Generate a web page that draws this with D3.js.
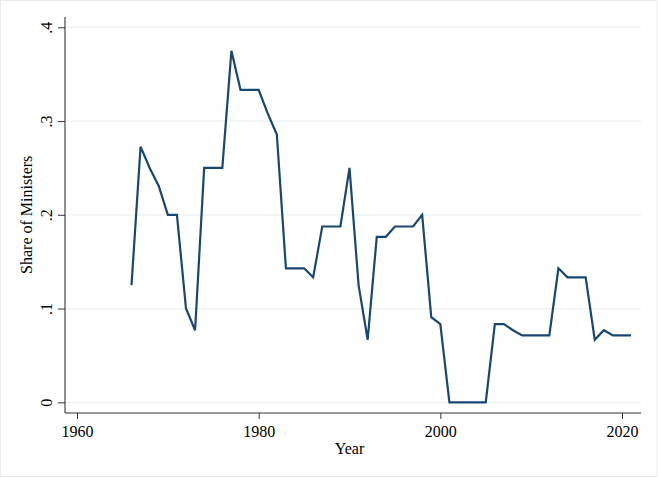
<!DOCTYPE html>
<html>
<head>
<meta charset="utf-8">
<script src="https://cdn.jsdelivr.net/npm/d3@7"></script>
<style>
  html, body { margin: 0; padding: 0; background: #fff; }
  svg { display: block; }
  text { font-family: "Liberation Serif", "Times New Roman", serif; fill: #000; }
</style>
</head>
<body>
<svg id="chart" width="658" height="478"></svg>
<script>
const years = [1966,1967,1968,1969,1970,1971,1972,1973,1974,1975,1976,1977,1978,1979,1980,
  1981,1982,1983,1984,1985,1986,1987,1988,1989,1990,1991,1992,1993,1994,1995,1996,1997,1998,
  1999,2000,2001,2002,2003,2004,2005,2006,2007,2008,2009,2010,2011,2012,2013,2014,2015,2016,
  2017,2018,2019,2020,2021];
const shares = [0.125,0.2727,0.25,0.2308,0.2,0.2,0.1,0.0769,0.25,0.25,0.25,0.375,0.3333,0.3333,0.3333,
  0.308,0.2857,0.1429,0.1429,0.1429,0.1333,0.1875,0.1875,0.1875,0.25,0.125,0.0667,0.1765,0.1765,0.1875,0.1875,0.1875,0.2,
  0.0909,0.0833,0,0,0,0,0,0.0833,0.0833,0.0769,0.0714,0.0714,0.0714,0.0714,0.1429,0.1333,0.1333,0.1333,
  0.0667,0.0769,0.0714,0.0714,0.0714];
const xTicks = [1960,1980,2000,2020];
const yTicks = [0,0.1,0.2,0.3,0.4];
const yTickLabels = ["0",".1",".2",".3",".4"];

const svg = d3.select("#chart");
const W = 658, H = 478;
const plot = {left: 65, right: 641, top: 17, bottom: 413};

svg.append("rect").attr("x",0.5).attr("y",0.5).attr("width",W-1.5).attr("height",H-2)
  .attr("fill","#fff").attr("stroke","#ececec");

const x = d3.scaleLinear().domain([1960,2020]).range([77,622]);
const y = d3.scaleLinear().domain([0,0.4]).range([402.3,27.3]);

// grid
svg.append("g").selectAll("line").data(yTicks).join("line")
  .attr("x1",plot.left).attr("x2",plot.right)
  .attr("y1",d=>y(d)).attr("y2",d=>y(d))
  .attr("stroke","#eaf2f3").attr("stroke-width",1.2);

// line
const data = years.map((yr,i)=>({yr, v: shares[i]}));
svg.append("path").datum(data)
  .attr("fill","none").attr("stroke","#1a476f").attr("stroke-width",2.2)
  .attr("stroke-linejoin","miter")
  .attr("d", d3.line().x(d=>x(d.yr)).y(d=>y(d.v)));

// x axis
const xAxis = svg.append("g").attr("transform",`translate(0,${plot.bottom})`)
  .call(d3.axisBottom(x).tickValues(xTicks).tickFormat(d3.format("d")).tickSize(6).tickSizeOuter(0).tickPadding(7));
xAxis.select(".domain").remove();
xAxis.append("line").attr("x1",plot.left).attr("x2",plot.right).attr("y1",0).attr("y2",0)
  .attr("stroke","#333").attr("stroke-width",1.1);
xAxis.selectAll(".tick line").attr("stroke","#333");
xAxis.selectAll(".tick text").attr("font-size",16).attr("font-family","Liberation Serif").attr("fill","#000");

// y axis
const yAxis = svg.append("g").attr("transform",`translate(${plot.left},0)`)
  .call(d3.axisLeft(y).tickValues(yTicks).tickFormat((d,i)=>yTickLabels[i]).tickSize(7).tickSizeOuter(0));
yAxis.select(".domain").remove();
yAxis.append("line").attr("x1",0).attr("x2",0).attr("y1",plot.top).attr("y2",plot.bottom)
  .attr("stroke","#333").attr("stroke-width",1.1);
yAxis.selectAll(".tick line").attr("stroke","#333");
yAxis.selectAll(".tick text")
  .attr("font-size",16).attr("font-family","Liberation Serif").attr("fill","#000")
  .attr("x",null).attr("dy",null)
  .attr("text-anchor","middle")
  .attr("transform","translate(-13,0) rotate(-90)");

// titles
svg.append("text").attr("x",(x(1960)+x(2020))/2 + 0).attr("y",454)
  .attr("text-anchor","middle").attr("font-size",16).text("Year");
svg.append("text").attr("transform",`translate(32,${(y(0)+y(0.4))/2}) rotate(-90)`)
  .attr("text-anchor","middle").attr("font-size",16).text("Share of Ministers");
</script>
</body>
</html>
